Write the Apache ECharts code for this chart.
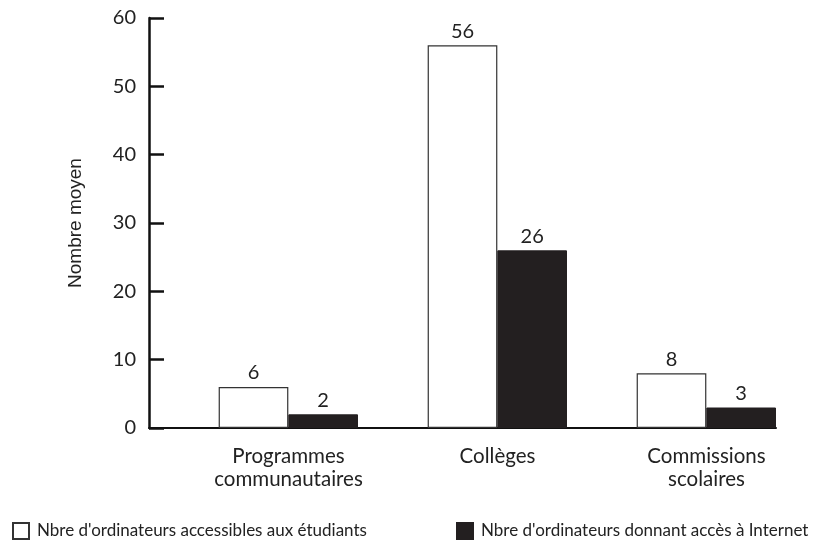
<!DOCTYPE html>
<html>
<head>
<meta charset="utf-8">
<script src="https://cdn.jsdelivr.net/npm/echarts@6/dist/echarts.min.js"></script>
<style>
  html, body { margin: 0; padding: 0; background: #fff; }
  #chart { width: 825px; height: 542px; }
</style>
</head>
<body>
<div id="chart"></div>
<script>
// categories and values
const categories = ['Programmes\ncommunautaires', 'Collèges', 'Commissions\nscolaires']
const accessibles = [6, 56, 8]
const internet = [2, 26, 3]
const yTicks = [0, 10, 20, 30, 40, 50, 60]

const nameAccess = "Nbre d'ordinateurs accessibles aux étudiants"
const nameInternet = "Nbre d'ordinateurs donnant accès à Internet"
const font = 'Lato'

const legendBase = {
  top: 522,
  padding: 0,
  icon: 'rect',
  itemWidth: 16,
  itemHeight: 16,
  textStyle: { fontSize: 17, color: '#222', fontFamily: font, padding: [0, 0, 0, 3] }
}

const chart = echarts.init(document.getElementById('chart'))
chart.setOption({
  animation: false,
  textStyle: { fontFamily: font },
  grid: { left: 149, right: 49, top: 18, bottom: 114 },
  legend: [
    Object.assign({ data: [nameAccess], left: 12 }, legendBase),
    Object.assign({ data: [nameInternet], left: 456 }, legendBase)
  ],
  xAxis: {
    type: 'category',
    data: categories,
    axisLine: { lineStyle: { color: '#111', width: 2 } },
    axisTick: { show: false },
    axisLabel: {
      margin: 17,
      fontSize: 20.5,
      lineHeight: 23,
      color: '#222',
      // groups sit in the right two thirds of each band, so shift the label
      padding: [0, 0, 0, 70]
    }
  },
  yAxis: {
    type: 'value',
    min: 0,
    max: 60,
    interval: 10,
    name: 'Nombre moyen',
    nameLocation: 'middle',
    nameGap: 64,
    nameTextStyle: { fontSize: 19, color: '#222', fontFamily: 'Liberation Sans' },
    axisLine: { show: true, lineStyle: { color: '#111', width: 2.5 } },
    axisTick: { show: true, inside: true, length: 15, lineStyle: { color: '#111', width: 2.5 } },
    splitLine: { show: false },
    axisLabel: {
      margin: 13, fontSize: 20, color: '#222',
      formatter: v => yTicks.includes(v) ? String(v) : ''
    }
  },
  series: [{
    // empty slot keeps the pair in the right part of each band
    name: '',
    type: 'bar',
    data: categories.map(() => '-'),
    barGap: '0%',
    barCategoryGap: '0%',
    silent: true
  }, {
    name: nameAccess,
    type: 'bar',
    data: accessibles,
    barGap: '0%',
    barCategoryGap: '0%',
    itemStyle: { color: '#fff', borderColor: '#333', borderWidth: 1.2 },
    label: { show: true, position: 'top', distance: 4, fontSize: 20, color: '#222' }
  }, {
    name: nameInternet,
    type: 'bar',
    data: internet,
    barGap: '0%',
    barCategoryGap: '0%',
    itemStyle: { color: '#231f20', borderColor: '#231f20', borderWidth: 1 },
    label: { show: true, position: 'top', distance: 4, fontSize: 20, color: '#222' }
  }]
})
</script>
</body>
</html>
